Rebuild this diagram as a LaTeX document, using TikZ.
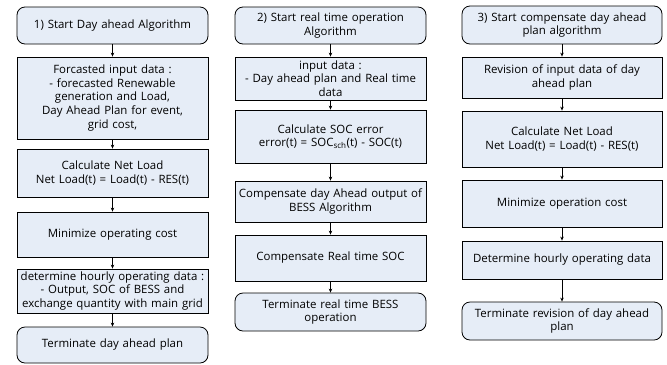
\documentclass[tikz,border=0pt]{standalone}
\usepackage{fontspec}
\setmainfont{Open Sans}
\usetikzlibrary{arrows.meta}
\definecolor{boxfill}{HTML}{E6EDF7}
\tikzset{
  base/.style={draw=black, fill=boxfill, line width=0.8bp, align=center, inner sep=1bp,
    font=\fontsize{11.5}{13.7}\selectfont},
  procbox/.style={base},
  termbox/.style={base, rounded corners=8bp},
  flow/.style={-{Stealth[length=4bp,width=3.5bp]}, line width=0.8bp},
}
\newcommand{\mkbox}[7]{% style, name, cx, top, bottom, width, text
  \node[#1, minimum width=#6bp, minimum height={#5bp-#4bp}, text width={#6bp-4bp}] (#2) at (#3,{(#4+#5)/2}) {#7};}
\begin{document}
\begin{tikzpicture}[x=1bp,y=-1bp]
\useasboundingbox (0,0) rectangle (667,364);
% column 1
\mkbox{termbox}{s1}{112.5}{7}{44}{191}{1) Start Day ahead Algorithm}
\mkbox{procbox}{a2}{112.5}{57}{139}{191}{Forcasted input data :\\- forecasted Renewable\\generation and Load,\\Day Ahead Plan for event,\\grid cost,}
\mkbox{procbox}{a3}{112.5}{149}{197}{191}{Calculate Net Load\\Net Load(t) = Load(t) - RES(t)}
\mkbox{procbox}{a4}{112.5}{212}{257}{191}{Minimize operating cost}
\mkbox{procbox}{a5}{112.5}{269}{313}{191}{determine hourly operating data :\\- Output, SOC of BESS and\\exchange quantity with main grid}
\mkbox{termbox}{a6}{112.5}{327}{363}{191}{Terminate day ahead plan}
% column 2
\mkbox{termbox}{s2}{330.5}{7}{44}{191}{2) Start real time operation\\Algorithm}
\mkbox{procbox}{b2}{330.5}{57}{100}{191}{input data :\\- Day ahead plan and Real time\\data}
\mkbox{procbox}{b3}{330.5}{110}{163}{191}{Calculate SOC error\\error(t) = SOC\textsubscript{sch}(t) - SOC(t)}
\mkbox{procbox}{b4}{330.5}{181}{222}{191}{Compensate day Ahead output of\\BESS Algorithm}
\mkbox{procbox}{b5}{330.5}{235}{281}{191}{Compensate Real time SOC}
\mkbox{termbox}{b6}{330.5}{293}{331}{191}{Terminate real time BESS\\operation}
% column 3
\mkbox{termbox}{s3}{562}{6}{44}{200}{3) Start compensate day ahead\\plan algorithm}
\mkbox{procbox}{c2}{562}{57}{98}{200}{Revision of input data of day\\ahead plan}
\mkbox{procbox}{c3}{562}{111}{167}{200}{Calculate Net Load\\Net Load(t) = Load(t) - RES(t)}
\mkbox{procbox}{c4}{562}{180}{227}{200}{Minimize operation cost}
\mkbox{procbox}{c5}{562}{241}{279}{200}{Determine hourly operating data}
\mkbox{termbox}{c6}{562}{302}{340}{200}{Terminate revision of day ahead\\plan}
% connectors
\foreach \u/\v in {s1/a2,a2/a3,a3/a4,a4/a5,a5/a6,s2/b2,b2/b3,b3/b4,b4/b5,b5/b6,s3/c2,c2/c3,c3/c4,c4/c5,c5/c6}
  \draw[flow] (\u.south) -- (\v.north);
\end{tikzpicture}
\end{document}
